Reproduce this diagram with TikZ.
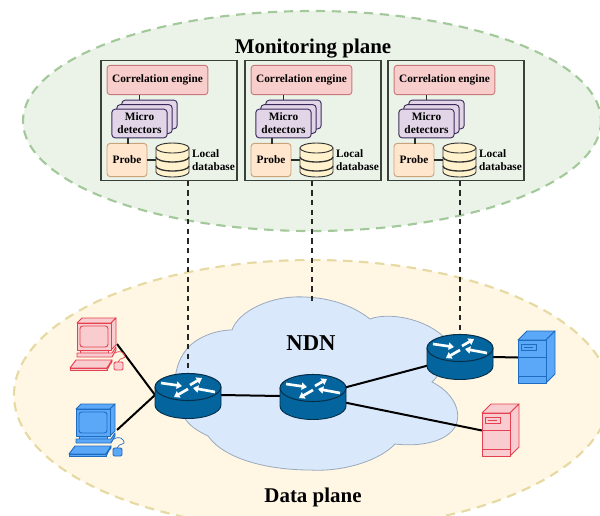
\documentclass[tikz,border=0pt]{standalone}
\usepackage{fontspec}
\setmainfont{Liberation Serif}
\usetikzlibrary{arrows.meta,calc}
\definecolor{monfill}{HTML}{EBF3E9}
\definecolor{monedge}{HTML}{A3C99B}
\definecolor{datfill}{HTML}{FFF7E3}
\definecolor{datedge}{HTML}{E6D9A2}
\definecolor{cloudfill}{HTML}{DAE8FC}
\definecolor{cloudedge}{HTML}{9AA9BC}
\definecolor{boxedge}{HTML}{3A4038}
\definecolor{corrfill}{HTML}{F8CECC}
\definecolor{corredge}{HTML}{C77A78}
\definecolor{microfill}{HTML}{E1D5E7}
\definecolor{microedge}{HTML}{3A2C5A}
\definecolor{probefill}{HTML}{FFE6CC}
\definecolor{probeedge}{HTML}{C9A37A}
\definecolor{dbfill}{HTML}{FFF2CC}
\definecolor{routertop}{HTML}{04659E}
\definecolor{routerline}{HTML}{05304C}
\definecolor{redline}{HTML}{E5404F}
\definecolor{redfill}{HTML}{F9CDD0}
\definecolor{blueline}{HTML}{1E6CC0}
\definecolor{bluefill}{HTML}{5CA8F8}
\tikzset{
  x=0.75pt,y=-0.75pt,
  txt/.style={font=\bfseries,text=black,inner sep=0pt,align=center},
  titletext/.style={txt,font=\bfseries\fontsize{15.7}{18}\selectfont},
  small/.style={txt,font=\bfseries\fontsize{8.5}{9.8}\selectfont},
  monitorbox/.style={draw=boxedge,line width=0.8pt,minimum width=102pt,minimum height=89.5pt,inner sep=0pt},
  corrbox/.style={draw=corredge,fill=corrfill,rounded corners=2.2pt,line width=0.7pt,minimum width=75.5pt,minimum height=22pt,small},
  microbox/.style={draw=microedge,fill=microfill,rounded corners=2.5pt,line width=0.7pt,minimum width=41.5pt,minimum height=21.5pt,inner sep=0pt},
  probebox/.style={draw=probeedge,fill=probefill,rounded corners=2.5pt,line width=0.7pt,minimum width=30pt,minimum height=25pt,small},
  dbslot/.style={minimum width=25pt,minimum height=25.5pt,inner sep=0pt,outer sep=0pt},
  link/.style={draw=black,line width=1.5pt},
  innerlink/.style={draw=boxedge!70!black,line width=1.2pt},
  dashlink/.style={draw=black!85,line width=1.4pt,dash pattern=on 4pt off 3.2pt},
  anchorbox/.style={inner sep=0pt,outer sep=0pt},
  rarrow/.style={draw=white!92!cloudfill,line width=2pt,-{Triangle[length=4pt,width=5.4pt]}},
  pics/routerpic/.style={code={
    \fill[routertop] (-33,0) -- (-33,18) arc[start angle=180,end angle=0,x radius=33,y radius=13.5] -- (33,0) -- cycle;
    \draw[routerline,line width=0.7pt] (-33,0) -- (-33,18) arc[start angle=180,end angle=0,x radius=33,y radius=13.5] -- (33,0);
    \draw[routerline,fill=routertop,line width=0.8pt] (0,0) ellipse (33 and 13.5);
    \draw[rarrow] (-27,-4) -- (-6,-1);
    \draw[rarrow] (2,-2) -- (14,-9);
    \draw[rarrow] (0,2) -- (-14,10);
    \draw[rarrow] (27,5) -- (5,1);
  }},
  pics/computerpic/.style 2 args={code={
    \begin{scope}[draw=#1,fill=#2,line width=0.7pt,line join=round]
    \filldraw (7,5) -- (12,0) -- (46,0) -- (41,5) -- cycle;
    \filldraw (41,5) -- (46,0) -- (46,27) -- (41,32) -- cycle;
    \filldraw (7,5) rectangle (41,32);
    \filldraw[rounded corners=2pt] (10,8) rectangle (38,29);
    \filldraw (10,32) rectangle (38,35);
    \filldraw (7,35) -- (42,35) -- (46,29) -- (46,32) -- (42,39) -- (7,39) -- cycle;
    \filldraw (6,42) -- (42,42) -- (37,50) -- (0,50) -- cycle;
    \filldraw (0,50) rectangle (37,52.5);
    \filldraw (37,52.5) -- (42,42) -- (42,44) -- (37,50);
    \filldraw[rounded corners=1pt] (44,44) rectangle (53,52);
    \draw[line width=0.5pt,fill=none] (48,44) .. controls (50,38) and (58,42) .. (54,36) .. controls (52,33) and (48,33) .. (45,35);
    \end{scope}
  }},
  pics/serverpic/.style 2 args={code={
    \begin{scope}[draw=#1,fill=#2,line width=0.7pt,line join=round]
    \filldraw (0,9) -- (9,0) -- (37,0) -- (28,9) -- cycle;
    \filldraw (28,9) -- (37,0) -- (37,43) -- (28,52) -- cycle;
    \filldraw (0,9) rectangle (28,52);
    \draw (0,26) -- (28,26);
    \draw (0,45) -- (28,45);
    \draw (3,13) rectangle (18,19);
    \draw (6,16) -- (15,16);
    \end{scope}
  }},
}
\newcommand{\monitorunit}[2]{%
  \node[monitorbox] (box#2) at (169+#1,120.5) {};
  \node[corrbox] (corr#2) at (157.5+#1,80) {Correlation engine};
  \node[microbox] (microback#2) at (149.5+#1,114.5) {};
  \node[microbox] at (144.5+#1,119) {};
  \node[microbox,small] (micro#2) at (139.5+#1,123.5) {Micro\\detectors};
  \node[probebox] (probe#2) at (127+#1,160) {Probe};
  \node[dbslot] (db#2) at (172.5+#1,160) {};
}
\begin{document}
\begin{tikzpicture}
\useasboundingbox (0,0) rectangle (600,515);
\clip (0,0) rectangle (600,515);
\fill[white] (0,0) rectangle (600,515);
\draw[fill=monfill,draw=monedge,line width=1.6pt,dash pattern=on 7pt off 5pt] (312,121) ellipse (289 and 110);
\draw[fill=datfill,draw=datedge,line width=1.6pt,dash pattern=on 7pt off 5pt] (312,395) ellipse (298 and 135);
\node[titletext] (montitle) at (313,48.5) {Monitoring plane};
\node[titletext] (dattitle) at (313,497.5) {Data plane};

% cloud
\path[fill=cloudfill,draw=cloudedge,line width=0.6pt]
  (186,420) .. controls (172,405) and (170,370) .. (186,350)
  .. controls (195,338) and (215,330) .. (232,330)
  .. controls (238,312) and (270,295) .. (305,297)
  .. controls (330,298) and (352,305) .. (370,319)
  .. controls (388,312) and (425,318) .. (445,338)
  .. controls (455,350) and (440,375) .. (432,382)
  .. controls (452,392) and (462,410) .. (456,425)
  .. controls (448,442) and (420,447) .. (395,444)
  .. controls (380,460) and (345,472) .. (310,470)
  .. controls (270,470) and (225,460) .. (208,436)
  .. controls (200,432) and (192,428) .. (186,420) -- cycle;
\node[txt,font=\bfseries\fontsize{17}{19}\selectfont] (ndn) at (311,343) {NDN};
\coordinate (cloudtop) at (312,303);

% monitoring units
\foreach \dx/\n in {0/a,144/b,287/c}{
  \monitorunit{\dx}{\n}
}
% hidden device anchors
\node[anchorbox,minimum width=49.5pt,minimum height=34.5pt] (r1) at (188,395) {};
\node[anchorbox,minimum width=49.5pt,minimum height=34.5pt] (r2) at (313,396) {};
\node[anchorbox,minimum width=49.5pt,minimum height=34.5pt] (r3) at (460,357) {};
\node[anchorbox,minimum width=39pt,minimum height=39pt] (pc1) at (91,344) {};
\node[anchorbox,minimum width=39pt,minimum height=39pt] (pc2) at (91,430) {};
\node[anchorbox,minimum width=21pt,minimum height=39pt] (s1) at (532,357.5) {};
\node[anchorbox,minimum width=21pt,minimum height=39pt] (s2) at (496,430.5) {};

% inner connectors
\foreach \n in {a,b,c}{
  \draw[innerlink] (corr\n.south -| micro\n.north) -- (microback\n.north -| micro\n.north);
  \draw[innerlink] ([xshift=-8.5pt]micro\n.south) -- ++(0,6);
  \draw[innerlink] (probe\n.east) -- (db\n.west);
}
% dashed
\draw[dashlink] (boxa.south -| r1.north) -- (r1.north);
\draw[dashlink] (boxb.south -| cloudtop) -- (cloudtop);
\draw[dashlink] (boxc.south -| r3.north) -- (r3.north);

% links
\draw[link] (pc1.east) -- (r1.west);
\draw[link] (pc2.east) -- (r1.west);
\draw[link] (r1.east) -- (r2.west);
\draw[link] (r2.center) -- (r3.center);
\draw[link] (r2.center) -- (s2.west);
\draw[link] (r3.east) -- (s1.west);

% devices
\pic at (188,387) {routerpic};
\pic at (313,388) {routerpic};
\pic at (460,348) {routerpic};
\pic at (70,318) {computerpic={redline}{redfill}};
\pic at (69,404) {computerpic={blueline}{bluefill}};
\pic at (518,331) {serverpic={blueline}{bluefill}};
\pic at (482,404) {serverpic={redline}{redfill}};

% databases
\foreach \n in {a,b,c}{
  \begin{scope}[shift={(db\n.center)}]
  \draw[draw=black!80,fill=dbfill,line width=0.7pt] (-16.5,-12) -- (-16.5,12) arc[start angle=180,end angle=0,x radius=16.5,y radius=5] -- (16.5,-12);
  \draw[draw=black!80,fill=dbfill,line width=0.7pt] (0,-12) ellipse (16.5 and 5);
  \draw[draw=black!80,line width=1pt] (-16.5,-3) arc[start angle=180,end angle=0,x radius=16.5,y radius=5];
  \draw[draw=black!80,line width=1pt] (-16.5,6) arc[start angle=180,end angle=0,x radius=16.5,y radius=5];
  \end{scope}
  \node[small,align=left,anchor=west] (dbl\n) at ([xshift=2pt]db\n.east) {Local\\database};
}
\end{tikzpicture}
\end{document}
